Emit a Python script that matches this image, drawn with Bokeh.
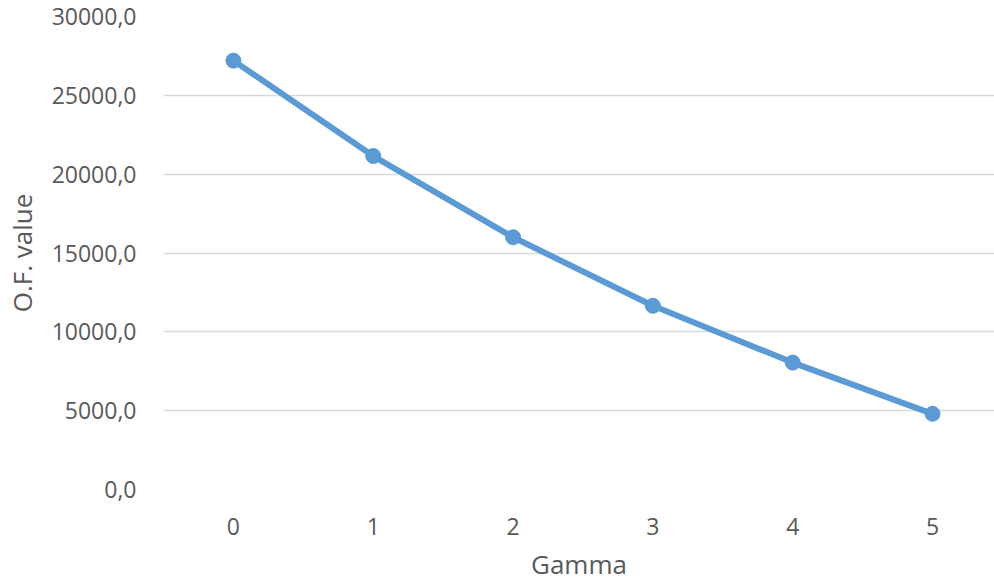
from bokeh.plotting import figure
from bokeh.models import ColumnDataSource, FixedTicker, Range1d
from bokeh.embed import file_html
from bokeh.resources import INLINE

# Objective function value for each gamma setting
gamma = [0, 1, 2, 3, 4, 5]
of_value = [27200, 21150, 16000, 11650, 8050, 4800]

# Axis ticks and their labels (decimal comma)
y_ticks = [0, 5000, 10000, 15000, 20000, 25000, 30000]
y_tick_labels = ["0,0", "5000,0", "10000,0", "15000,0", "20000,0", "25000,0", "30000,0"]
x_ticks = gamma
x_tick_labels = [str(g) for g in gamma]
x_title = "Gamma"
y_title = "O.F. value"

FONT = "Open Sans"
TEXT_COLOR = "#595959"
LINE_COLOR = "#5b9bd5"

source = ColumnDataSource(data=dict(x=gamma, y=of_value))

p = figure(
    width=994, height=584,
    x_range=Range1d(-0.5, 5.443),
    y_range=Range1d(0, 30000),
    output_backend="svg",
    toolbar_location=None,
    min_border_left=162, min_border_right=0,
    min_border_top=16, min_border_bottom=95,
)
p.outline_line_color = None
p.background_fill_color = "white"
p.border_fill_color = "white"

p.line("x", "y", source=source, line_color=LINE_COLOR, line_width=6)
p.scatter("x", "y", source=source, size=15, fill_color=LINE_COLOR, line_color=LINE_COLOR)

# grid
p.xgrid.grid_line_color = None
p.ygrid.grid_line_color = "#d9d9d9"
p.ygrid.grid_line_width = 1.5

# y axis
p.yaxis.ticker = FixedTicker(ticks=y_ticks)
p.yaxis.major_label_overrides = dict(zip(y_ticks, y_tick_labels))
p.yaxis.axis_line_color = None
p.yaxis.major_tick_line_color = None
p.yaxis.minor_tick_line_color = None
p.yaxis.major_label_standoff = 21
p.yaxis.major_label_text_font = FONT
p.yaxis.major_label_text_font_size = "23px"
p.yaxis.major_label_text_color = TEXT_COLOR
p.yaxis.axis_label = y_title
p.yaxis.axis_label_text_font = FONT
p.yaxis.axis_label_text_font_size = "26px"
p.yaxis.axis_label_text_font_style = "normal"
p.yaxis.axis_label_text_color = TEXT_COLOR
p.yaxis.axis_label_standoff = 9

# x axis
p.xaxis.ticker = FixedTicker(ticks=x_ticks)
p.xaxis.major_label_overrides = dict(zip(x_ticks, x_tick_labels))
p.xaxis.axis_line_color = None
p.xaxis.major_tick_line_color = None
p.xaxis.minor_tick_line_color = None
p.xaxis.major_label_standoff = 22
p.xaxis.major_label_text_font = FONT
p.xaxis.major_label_text_font_size = "23px"
p.xaxis.major_label_text_color = TEXT_COLOR
p.xaxis.axis_label = x_title
p.xaxis.axis_label_text_font = FONT
p.xaxis.axis_label_text_font_size = "26px"
p.xaxis.axis_label_text_font_style = "normal"
p.xaxis.axis_label_text_color = TEXT_COLOR
p.xaxis.axis_label_standoff = 8

open("out.html", "w").write(file_html(p, INLINE))
